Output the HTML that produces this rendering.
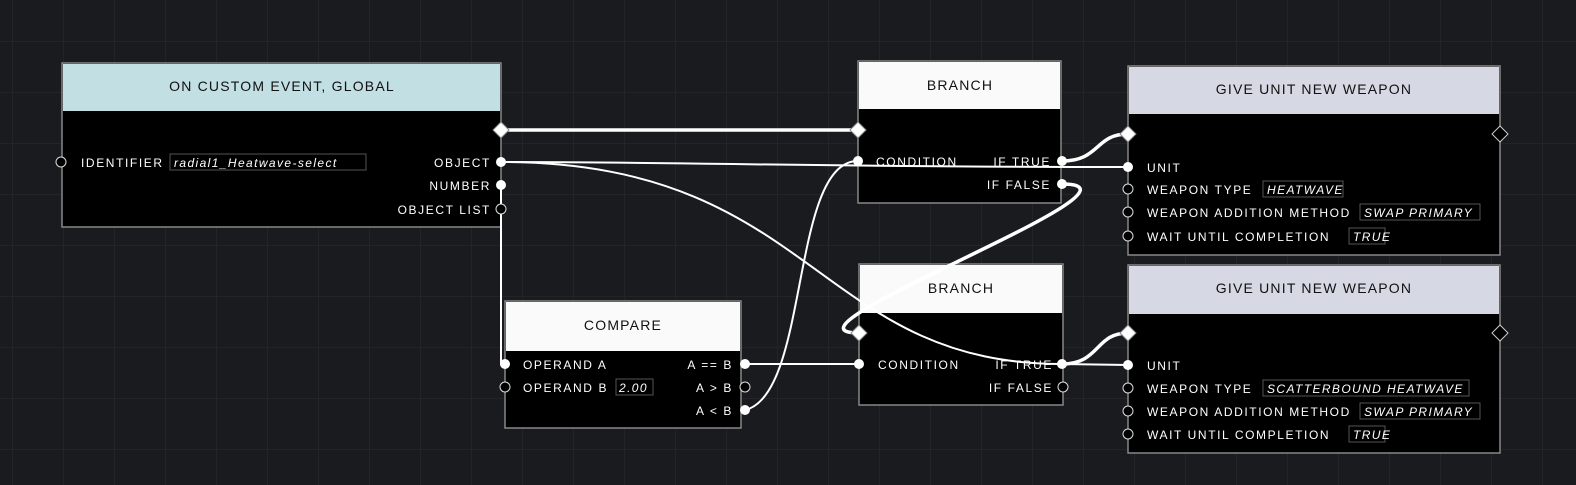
<!DOCTYPE html>
<html><head><meta charset="utf-8"><style>
html,body{margin:0;padding:0;background:#1a1b1e;}
svg{display:block}
text{font-family:"Liberation Sans",sans-serif;}
.h{font-size:14px;fill:#111;letter-spacing:1.2px;text-anchor:middle}
.l{font-size:12px;fill:#fff;letter-spacing:1.6px}
.r{font-size:12px;fill:#fff;letter-spacing:1.6px;text-anchor:end}
.v{font-size:12px;fill:#fff;letter-spacing:1.4px;font-style:italic}
.box{fill:none;stroke:#555;stroke-width:1}
.w{fill:none;stroke:#fff;stroke-width:2}
.t{fill:none;stroke:#fff;stroke-width:3.5}
.pf{fill:#fff}
.pe{fill:#000;stroke:#ddd;stroke-width:1}
</style></head><body>
<svg width="1576" height="485" viewBox="0 0 1576 485" xmlns="http://www.w3.org/2000/svg">
<defs>
<pattern id="g" x="12" y="41" width="51" height="51" patternUnits="userSpaceOnUse">
<path d="M0 0H51M0 0V51" stroke="#232428" stroke-width="2" fill="none"/>
</pattern>
</defs>
<rect width="1576" height="485" fill="#1a1b1e"/>
<rect width="1576" height="485" fill="url(#g)"/>

<!-- Node 1 -->
<rect x="62" y="63" width="439" height="164" fill="#000" stroke="#888" stroke-width="1.5"/>
<rect x="63" y="64" width="437" height="47" fill="#c2dfe3"/>
<text class="h" x="282" y="91">ON CUSTOM EVENT, GLOBAL</text>
<text class="l" x="81" y="167">IDENTIFIER</text>
<rect class="box" x="170" y="154" width="196" height="16"/>
<text class="v" x="174" y="167">radial1_Heatwave-select</text>
<text class="r" x="491" y="167">OBJECT</text>
<text class="r" x="491" y="190">NUMBER</text>
<text class="r" x="491" y="214">OBJECT LIST</text>

<!-- Branch 1 -->
<rect x="858" y="61" width="203" height="142" fill="#000" stroke="#888" stroke-width="1.5"/>
<rect x="859" y="62" width="201" height="47" fill="#fafafa"/>
<text class="h" x="960" y="90">BRANCH</text>
<text class="l" x="876" y="166">CONDITION</text>
<text class="r" x="1051" y="166">IF TRUE</text>
<text class="r" x="1051" y="189">IF FALSE</text>

<!-- Branch 2 -->
<rect x="859" y="264" width="204" height="141" fill="#000" stroke="#888" stroke-width="1.5"/>
<rect x="860" y="265" width="202" height="48" fill="#fafafa"/>
<text class="h" x="961" y="293">BRANCH</text>
<text class="l" x="878" y="369">CONDITION</text>
<text class="r" x="1053" y="369">IF TRUE</text>
<text class="r" x="1053" y="392">IF FALSE</text>

<!-- Compare -->
<rect x="505" y="301" width="236" height="127" fill="#000" stroke="#888" stroke-width="1.5"/>
<rect x="506" y="302" width="234" height="49" fill="#fafafa"/>
<text class="h" x="623" y="330">COMPARE</text>
<text class="l" x="523" y="369">OPERAND A</text>
<text class="l" x="523" y="392">OPERAND B</text>
<rect class="box" x="616" y="379" width="37" height="16"/>
<text class="v" x="619" y="392">2.00</text>
<text class="r" x="733" y="369">A == B</text>
<text class="r" x="733" y="392">A &gt; B</text>
<text class="r" x="733" y="415">A &lt; B</text>

<!-- Give 1 -->
<rect x="1128" y="66" width="372" height="189" fill="#000" stroke="#888" stroke-width="1.5"/>
<rect x="1129" y="67" width="370" height="47" fill="#d6d8e4"/>
<text class="h" x="1314" y="94">GIVE UNIT NEW WEAPON</text>
<text class="l" x="1147" y="172">UNIT</text>
<text class="l" x="1147" y="194">WEAPON TYPE</text>
<rect class="box" x="1263" y="181" width="80" height="16"/>
<text class="v" x="1267" y="194">HEATWAVE</text>
<text class="l" x="1147" y="217">WEAPON ADDITION METHOD</text>
<rect class="box" x="1360" y="204" width="120" height="16"/>
<text class="v" x="1364" y="217">SWAP PRIMARY</text>
<text class="l" x="1147" y="241">WAIT UNTIL COMPLETION</text>
<rect class="box" x="1349" y="228" width="36" height="16"/>
<text class="v" x="1353" y="241">TRUE</text>

<!-- Give 2 -->
<rect x="1128" y="265" width="372" height="188" fill="#000" stroke="#888" stroke-width="1.5"/>
<rect x="1129" y="266" width="370" height="48" fill="#d6d8e4"/>
<text class="h" x="1314" y="293">GIVE UNIT NEW WEAPON</text>
<text class="l" x="1147" y="370">UNIT</text>
<text class="l" x="1147" y="393">WEAPON TYPE</text>
<rect class="box" x="1263" y="380" width="206" height="16"/>
<text class="v" x="1267" y="393">SCATTERBOUND HEATWAVE</text>
<text class="l" x="1147" y="416">WEAPON ADDITION METHOD</text>
<rect class="box" x="1360" y="403" width="120" height="16"/>
<text class="v" x="1364" y="416">SWAP PRIMARY</text>
<text class="l" x="1147" y="439">WAIT UNTIL COMPLETION</text>
<rect class="box" x="1349" y="426" width="36" height="16"/>
<text class="v" x="1353" y="439">TRUE</text>

<!-- Connectors -->
<path class="t" d="M501 130 L858 130"/>
<path class="w" d="M501 162 C700 162 800 167 1128 167"/>
<path class="w" d="M501 162 C815 162 815 364 1062 364 L1128 365"/>
<path class="w" d="M501 185 L501 364 L505 364"/>
<path class="w" d="M745 364 L859 364"/>
<path class="w" d="M745 410 C810 395 790 161 858 161"/>
<path class="t" d="M1062 161 C1100 161 1095 134 1128 134"/>
<path class="t" d="M1062 184 C1170 184 760 333 859 333"/>
<path class="t" d="M1062 364 C1100 364 1095 333 1128 333"/>

<!-- Ports -->
<g>
<path d="M501 122 L509 130 L501 138 L493 130Z" fill="#fff" stroke="#888"/>
<path d="M858 122 L866 130 L858 138 L850 130Z" fill="#fff" stroke="#888"/>
<path d="M859 325 L867 333 L859 341 L851 333Z" fill="#fff" stroke="#888"/>
<path d="M1128 126 L1136 134 L1128 142 L1120 134Z" fill="#fff" stroke="#888"/>
<path d="M1128 325 L1136 333 L1128 341 L1120 333Z" fill="#fff" stroke="#888"/>
<path d="M1500 126 L1508 134 L1500 142 L1492 134Z" fill="#000" stroke="#ccc"/>
<path d="M1500 325 L1508 333 L1500 341 L1492 333Z" fill="#000" stroke="#ccc"/>
<circle class="pe" cx="61" cy="162" r="5"/>
<circle class="pf" cx="501" cy="162" r="5"/>
<circle class="pf" cx="501" cy="185" r="5"/>
<circle class="pe" cx="501" cy="209" r="5"/>
<circle class="pf" cx="858" cy="161" r="5"/>
<circle class="pf" cx="1062" cy="161" r="5"/>
<circle class="pf" cx="1062" cy="184" r="5"/>
<circle class="pf" cx="859" cy="364" r="5"/>
<circle class="pf" cx="1062" cy="364" r="5"/>
<circle class="pe" cx="1063" cy="387" r="5"/>
<circle class="pf" cx="505" cy="364" r="5"/>
<circle class="pe" cx="505" cy="387" r="5"/>
<circle class="pf" cx="745" cy="364" r="5"/>
<circle class="pe" cx="745" cy="387" r="5"/>
<circle class="pf" cx="745" cy="410" r="5"/>
<circle class="pf" cx="1128" cy="167" r="5"/>
<circle class="pe" cx="1128" cy="189" r="5"/>
<circle class="pe" cx="1128" cy="212" r="5"/>
<circle class="pe" cx="1128" cy="236" r="5"/>
<circle class="pf" cx="1128" cy="365" r="5"/>
<circle class="pe" cx="1128" cy="388" r="5"/>
<circle class="pe" cx="1128" cy="411" r="5"/>
<circle class="pe" cx="1128" cy="434" r="5"/>
</g>
</svg>
</body></html>
